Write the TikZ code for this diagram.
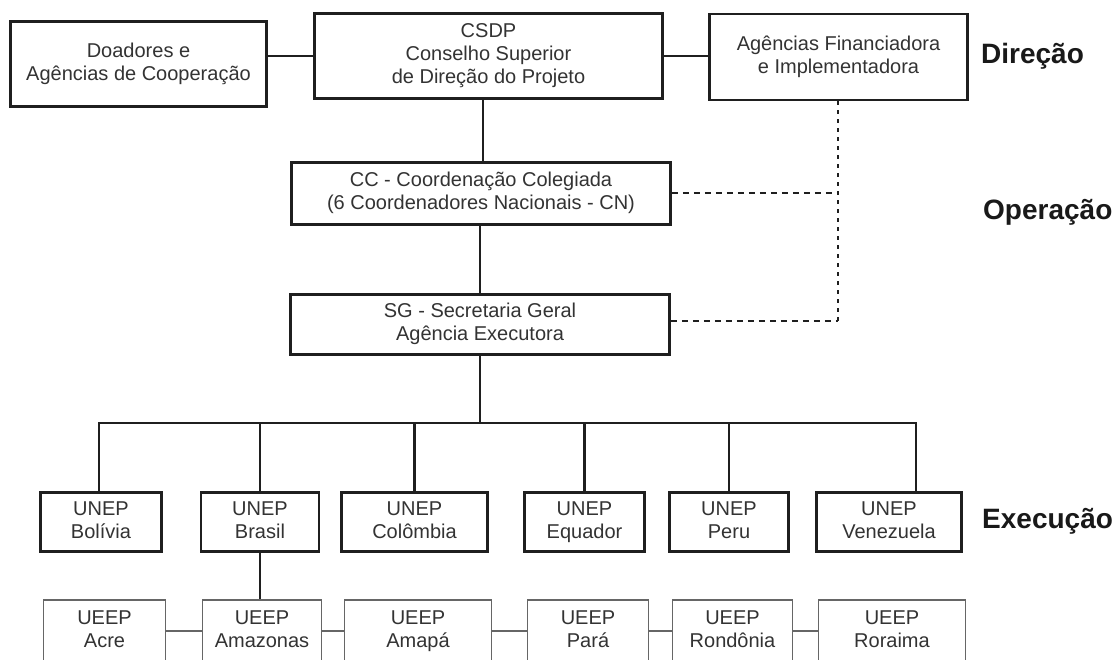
\documentclass[tikz,border=0pt]{standalone}
\usepackage{fontspec}
\setmainfont{Liberation Sans}
\begin{document}
\begin{tikzpicture}[x=1pt,y=-1pt,
  box/.style={draw=black!88, line width=2.9pt, rectangle, inner sep=0pt, align=center,
    font=\fontsize{20}{23}\selectfont, text=black!80},
  ubox/.style={draw=black!60, line width=1.2pt, rectangle, inner sep=0pt, align=center,
    font=\fontsize{20}{23}\selectfont, text=black!80},
  conn/.style={line width=2.8pt, draw=black!88},
  uconn/.style={line width=1.2pt, draw=black!60},
  hdash/.style={line width=2.6pt, draw=black!88, dash pattern=on 6pt off 5pt},
  vdash/.style={line width=2.6pt, draw=black!88, dash pattern=on 4pt off 5pt},
  lvl/.style={font=\fontsize{28}{30}\selectfont\bfseries, anchor=west, text=black!90, inner sep=0pt}]
\useasboundingbox[fill=white] (0,0) rectangle (1120,660);

% top row
\node[box, minimum width=256pt, minimum height=85pt] (doa) at (138.5,64) {Doadores e\strut\\Agências de Cooperação\strut};
\node[box, minimum width=348pt, minimum height=85pt] (csdp) at (488.5,56) {CSDP\strut\\Conselho Superior\strut\\de Direção do Projeto\strut};
\node[box, minimum width=258pt, minimum height=86pt] (age) at (838.5,57) {Agências Financiadora\strut\\e Implementadora\strut};

% operation
\node[box, minimum width=379pt, minimum height=62pt] (cc) at (481,193.5) {CC - Coordenação Colegiada\strut\\(6 Coordenadores Nacionais - CN)\strut};
\node[box, minimum width=379pt, minimum height=60pt] (sg) at (480,324.5) {SG - Secretaria Geral\strut\\Agência Executora\strut};

% UNEP row
\node[box, minimum width=121pt, minimum height=59pt] (bol) at (101,522) {UNEP\strut\\Bolívia\strut};
\node[box, minimum width=118pt, minimum height=59pt] (bra) at (260,522) {UNEP\strut\\Brasil\strut};
\node[box, minimum width=146pt, minimum height=59pt] (col) at (414.5,522) {UNEP\strut\\Colômbia\strut};
\node[box, minimum width=120pt, minimum height=59pt] (equ) at (584.5,522) {UNEP\strut\\Equador\strut};
\node[box, minimum width=119pt, minimum height=59pt] (per) at (729,522) {UNEP\strut\\Peru\strut};
\node[box, minimum width=145pt, minimum height=59pt] (ven) at (889,522) {UNEP\strut\\Venezuela\strut};

% UEEP row
\node[ubox, minimum width=122pt, minimum height=62pt] (acr) at (104.5,631) {UEEP\strut\\Acre\strut};
\node[ubox, minimum width=119pt, minimum height=62pt] (ama) at (262,631) {UEEP\strut\\Amazonas\strut};
\node[ubox, minimum width=147pt, minimum height=62pt] (amp) at (418,631) {UEEP\strut\\Amapá\strut};
\node[ubox, minimum width=121pt, minimum height=62pt] (par) at (588,631) {UEEP\strut\\Pará\strut};
\node[ubox, minimum width=120pt, minimum height=62pt] (ron) at (732.5,631) {UEEP\strut\\Rondônia\strut};
\node[ubox, minimum width=147pt, minimum height=62pt] (ror) at (892,631) {UEEP\strut\\Roraima\strut};

% level labels
\node[lvl] (ldir) at (981,56) {Direção};
\node[lvl] (lope) at (983,212) {Operação};
\node[lvl] (lexe) at (982,521) {Execução};

% coordinates
\coordinate (busL) at (99,423);
\coordinate (busR) at (916,423);
\coordinate (busM) at (480,423);
\coordinate (dv) at (838,321);
\coordinate (dcc) at (838,193);

% solid connectors
\draw[conn] (csdp.west) -- (csdp.west -| doa.east);
\draw[conn] (csdp.east) -- (csdp.east -| age.west);
\draw[conn] (cc.north -| 483,0) -- (csdp.south -| 483,0);
\draw[conn] (sg.north) -- (cc.south -| sg.north);
\draw[conn] (sg.south) -- (busM);
\draw[conn] (bol.north -| busL) -- (busL) -- (busR) -- (ven.north -| busR);
\draw[conn] (bra.north) -- (bra.north |- busL);
\draw[conn] (col.north) -- (col.north |- busL);
\draw[conn] (equ.north) -- (equ.north |- busL);
\draw[conn] (per.north) -- (per.north |- busL);
\draw[conn] (bra.south) -- (bra.south |- ama.north);

% dashed connectors
\draw[vdash] (age.south -| dv) -- (dv);
\draw[hdash] (cc.east |- dcc) -- (dcc);
\draw[hdash] (sg.east |- dv) -- (dv);

% UEEP connectors
\draw[uconn] (acr.east) -- (ama.west);
\draw[uconn] (ama.east) -- (amp.west);
\draw[uconn] (amp.east) -- (par.west);
\draw[uconn] (par.east) -- (ron.west);
\draw[uconn] (ron.east) -- (ror.west);
\end{tikzpicture}
\end{document}
